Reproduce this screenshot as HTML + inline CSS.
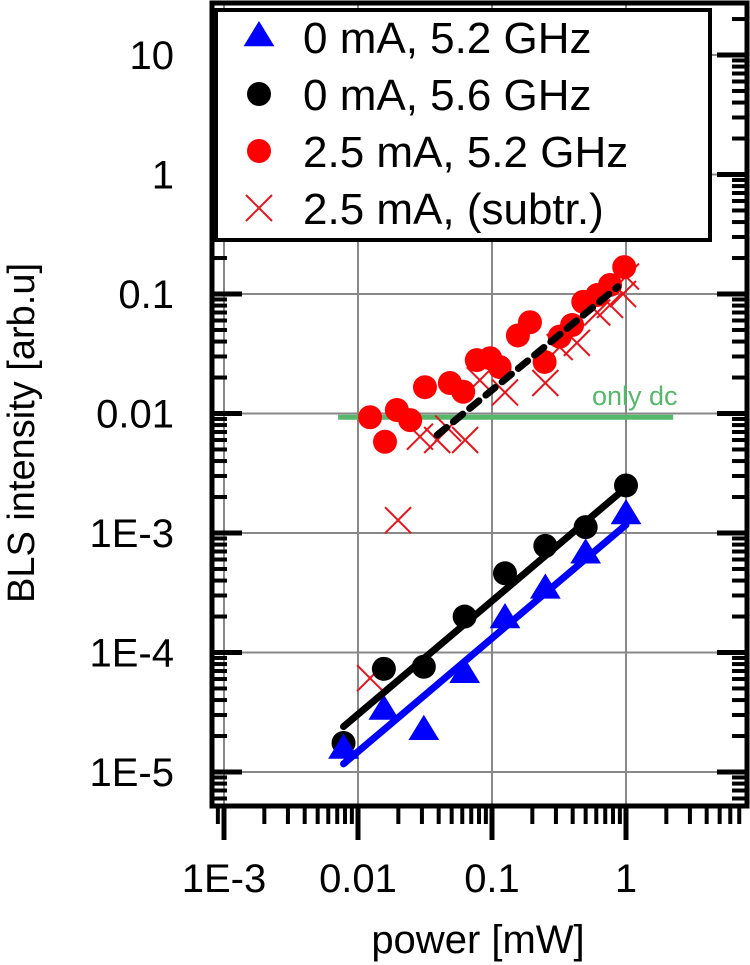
<!DOCTYPE html>
<html><head><meta charset="utf-8"><style>
html,body{margin:0;padding:0;background:#fff;}
svg{display:block;font-family:"Liberation Sans",Arial,sans-serif;}
</style></head><body>
<svg id="chart" width="750" height="965" viewBox="0 0 750 965" xmlns="http://www.w3.org/2000/svg">
<g id="grid"></g>
<g id="series"></g>
<g id="axes"></g>
<text x="0" y="0" transform="translate(34,433) rotate(-90)" font-size="38" text-anchor="middle">BLS intensity [arb.u]</text>
<text x="478" y="953" font-size="40" text-anchor="middle">power [mW]</text>
<g id="legend"></g>
</svg>
<script>
// ---- data ----
const xTickVals = [0.001, 0.01, 0.1, 1];
const xTickLabels = ["1E-3", "0.01", "0.1", "1"];
const yTickVals = [10, 1, 0.1, 0.01, 0.001, 0.0001, 0.00001];
const yTickLabels = ["10", "1", "0.1", "0.01", "1E-3", "1E-4", "1E-5"];

const blackP = [0.0078, 0.0156, 0.031, 0.0625, 0.125, 0.25, 0.5, 1];
const blackV = [1.75e-5, 7.3e-5, 7.6e-5, 2.0e-4, 4.6e-4, 7.8e-4, 1.12e-3, 2.5e-3];
const blueP = [0.0078, 0.0156, 0.031, 0.0625, 0.125, 0.25, 0.5, 1];
const blueV = [1.6e-5, 3.4e-5, 2.3e-5, 6.9e-5, 1.98e-4, 3.5e-4, 6.9e-4, 1.47e-3];
const redP = [0.0123, 0.0159, 0.0195, 0.0245, 0.0316, 0.0485, 0.061, 0.077, 0.097, 0.114, 0.156, 0.192, 0.247, 0.32, 0.396, 0.48, 0.61, 0.76, 0.97];
const redV = [0.0093, 0.0058, 0.0107, 0.0088, 0.0166, 0.018, 0.0152, 0.028, 0.029, 0.0245, 0.045, 0.058, 0.027, 0.044, 0.055, 0.086, 0.098, 0.119, 0.168];
const crossP = [0.0123, 0.0199, 0.029, 0.039, 0.047, 0.063, 0.081, 0.125, 0.25, 0.32, 0.43, 0.61, 0.76, 0.95, 1.0];
const crossV = [6.1e-5, 1.28e-3, 0.0064, 0.006, 0.0075, 0.006, 0.019, 0.015, 0.018, 0.036, 0.039, 0.070, 0.081, 0.10, 0.14];
const blackFitP = [0.0078, 1];
const blackFitV = [2.4e-5, 2.4e-3];
const blueFitP = [0.0078, 1];
const blueFitV = [1.17e-5, 1.17e-3];
const dashFitP = [0.039, 0.87];
const dashFitV = [0.0066, 0.115];
const dcP = [0.0071, 2.25];
const dcV = [0.0093, 0.0093];

// ---- axes ----
const L = 212, R = 747, T = 3, B = 806;
function X(p){ return 358 + 134 * Math.log10(p / 0.01); }
function Y(v){ return 533 - 119.5 * Math.log10(v / 0.001); }
const NS = "http://www.w3.org/2000/svg";
function mk(tag, attrs, parent){
  const e = document.createElementNS(NS, tag);
  for (const k in attrs) e.setAttribute(k, attrs[k]);
  parent.appendChild(e);
  return e;
}
const grid = document.getElementById('grid');
const axes = document.getElementById('axes');
const series = document.getElementById('series');
const legend = document.getElementById('legend');

xTickVals.forEach((v) => {
  const l = mk('line', {x1: X(v), x2: X(v), y1: T, y2: B, stroke: '#888', 'stroke-width': 2}, grid);
  
  
});
yTickVals.forEach((v) => {
  const l = mk('line', {x1: L, x2: R, y1: Y(v), y2: Y(v), stroke: '#888', 'stroke-width': 2}, grid);
  
  
});

for (let d = -4; d <= 1; d++) {
  for (let m = 1; m <= 9; m++) {
    const v = m * Math.pow(10, d);
    const x = X(v);
    if (x < L || x > R) continue;
    const len = m === 1 ? 34 : 18;
    const t = mk('line', {x1: x, x2: x, y1: B, y2: B + len, stroke: '#000', 'stroke-width': m === 1 ? 5 : 4}, axes);
    
    
  }
}
for (let d = -6; d <= 1; d++) {
  for (let m = 1; m <= 9; m++) {
    const v = m * Math.pow(10, d);
    const y = Y(v);
    if (y < T || y > B) continue;
    const len = m === 1 ? 30 : 15;
    const w = m === 1 ? 5 : 4;
    const t1 = mk('line', {x1: L, x2: L + len, y1: y, y2: y, stroke: '#000', 'stroke-width': w}, axes);
    
    
    const t2 = mk('line', {x1: R - len, x2: R, y1: y, y2: y, stroke: '#000', 'stroke-width': w}, axes);
    
    
  }
}
const frame = mk('rect', {x: L, y: T, width: R - L, height: B - T, fill: 'none', stroke: '#000', 'stroke-width': 5}, axes);



xTickVals.forEach((v, i) => {
  const t = mk('text', {x: X(v), y: 892, 'font-size': 40, 'text-anchor': 'middle'}, axes);
  t.textContent = xTickLabels[i];
  
  
});
yTickVals.forEach((v, i) => {
  const t = mk('text', {x: 174, y: Y(v) + 14, 'font-size': 40, 'text-anchor': 'end'}, axes);
  t.textContent = yTickLabels[i];
  
  
});

function cross(x, y, s, parent){
  const g = mk('g', {stroke: '#e8141c', 'stroke-width': 2}, parent);
  mk('line', {x1: x - s, y1: y - s, x2: x + s, y2: y + s}, g);
  mk('line', {x1: x - s, y1: y + s, x2: x + s, y2: y - s}, g);
  return g;
}
function tri(x, y, s, parent){
  return mk('polygon', {points: `${x},${y - s} ${x - s * 1.1},${y + s * 0.8} ${x + s * 1.1},${y + s * 0.8}`, fill: '#0000ff'}, parent);
}

const dc = mk('line', {x1: X(dcP[0]), y1: Y(dcV[0]), x2: X(dcP[1]), y2: Y(dcV[1]), stroke: '#55b86a', 'stroke-width': 5}, series);


const dct = mk('text', {x: 592, y: 405, 'font-size': 27, fill: '#55b86a'}, series);
dct.textContent = 'only dc';



crossP.forEach((p, i) => {
  const c = cross(X(p), Y(crossV[i]), 13, series);
  
  
});
redP.forEach((p, i) => {
  const c = mk('circle', {cx: X(p), cy: Y(redV[i]), r: 12, fill: '#ff0000'}, series);
  
  
});
const dl = mk('line', {x1: X(dashFitP[0]), y1: Y(dashFitV[0]), x2: X(dashFitP[1]), y2: Y(dashFitV[1]), stroke: '#000', 'stroke-width': 7, 'stroke-dasharray': '12 9', 'stroke-linecap': 'round'}, series);



blackP.forEach((p, i) => {
  const c = mk('circle', {cx: X(p), cy: Y(blackV[i]), r: 12, fill: '#000'}, series);
  
  
});
blueP.forEach((p, i) => {
  const t = tri(X(p), Y(blueV[i]), 14, series);
  
  
});
const bl = mk('line', {x1: X(blackFitP[0]), y1: Y(blackFitV[0]), x2: X(blackFitP[1]), y2: Y(blackFitV[1]), stroke: '#000', 'stroke-width': 7, 'stroke-linecap': 'round'}, series);


const bu = mk('line', {x1: X(blueFitP[0]), y1: Y(blueFitV[0]), x2: X(blueFitP[1]), y2: Y(blueFitV[1]), stroke: '#0000ff', 'stroke-width': 7, 'stroke-linecap': 'round'}, series);



const lb = mk('rect', {x: 216, y: 10, width: 494, height: 230, fill: '#fff', stroke: '#000', 'stroke-width': 4}, legend);


const legLabels = ["0 mA, 5.2 GHz", "0 mA, 5.6 GHz", "2.5 mA, 5.2 GHz", "2.5 mA, (subtr.)"];
const rowsY = [37, 94, 151, 208];
legLabels.forEach((lab, i) => {
  const y = rowsY[i];
  let m;
  if (i === 0) m = tri(259, y - 2, 14, legend);
  else if (i === 1) m = mk('circle', {cx: 259, cy: y, r: 12, fill: '#000'}, legend);
  else if (i === 2) m = mk('circle', {cx: 259, cy: y, r: 12, fill: '#ff0000'}, legend);
  else m = cross(259, y, 13, legend);
  
  
  const t = mk('text', {x: 303, y: y + 16, 'font-size': 44}, legend);
  t.textContent = lab;
  
  
});
</script>
</body></html>
